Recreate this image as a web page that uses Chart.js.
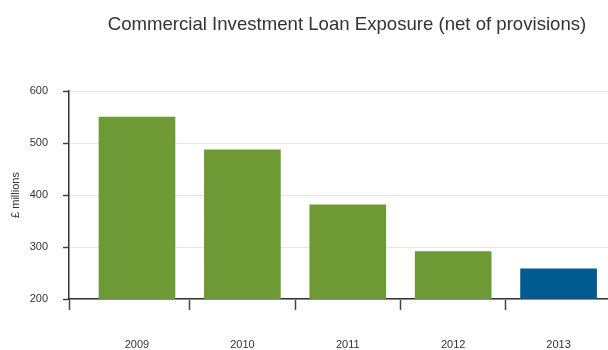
<!DOCTYPE html>
<html>
<head>
<meta charset="utf-8">
<script src="https://cdn.jsdelivr.net/npm/chart.js@4.4.1/dist/chart.umd.min.js"></script>
<style>
  html, body { margin: 0; padding: 0; background: #fff; }
  #wrap { width: 608px; height: 350px; position: relative; }
</style>
</head>
<body>
<div id="wrap"><canvas id="c"></canvas></div>
<script>
// Commercial investment loan exposure, net of provisions (£ millions)
const years = ['2009', '2010', '2011', '2012', '2013'];
const exposure = [550, 487, 381, 291, 258];
const barColors = ['#6e9a35', '#6e9a35', '#6e9a35', '#6e9a35', '#00598f'];
const yTicks = [200, 300, 400, 500, 600];
const chartTitle = 'Commercial Investment Loan Exposure (net of provisions)';
const yTitle = '£ millions';

const FONT = '"Liberation Sans", Arial, Helvetica, sans-serif';
const TEXT = '#333333';

// x positions are category indices; tick marks sit between categories
const xMin = -0.645, xMax = 4.469;
const xTickValues = [xMin];
years.forEach((_, i) => { xTickValues.push(i); if (i < years.length - 1) xTickValues.push(i + 0.5); });

const headingPlugin = {
  id: 'heading',
  afterDraw(chart, args, opts) {
    const ctx = chart.ctx;
    ctx.save();
    ctx.font = opts.size + 'px ' + FONT;
    ctx.fillStyle = TEXT;
    ctx.textAlign = 'center';
    ctx.textBaseline = 'middle';
    ctx.fillText(opts.text, opts.x, opts.y);
    ctx.restore();
  }
};

new Chart(document.getElementById('c'), {
  type: 'bar',
  data: {
    datasets: [{
      data: exposure.map((v, i) => ({ x: i, y: v })),
      backgroundColor: barColors,
      borderWidth: 0,
      barThickness: 76
    }]
  },
  options: {
    responsive: true,
    maintainAspectRatio: false,
    animation: false,
    layout: { padding: { top: 91, right: 0, bottom: 0, left: 0 } },
    plugins: {
      legend: { display: false },
      tooltip: { enabled: false },
      title: { display: false },
      heading: { text: chartTitle, x: 347, y: 25, size: 18.6 }
    },
    scales: {
      x: {
        type: 'linear',
        offset: false,
        min: xMin,
        max: xMax,
        afterBuildTicks(scale) { scale.ticks = xTickValues.map(v => ({ value: v })); },
        afterFit(scale) { scale.height = 51; },
        grid: {
          offset: false,
          drawOnChartArea: false,
          tickLength: 11,
          tickWidth: 1.5,
          tickColor: (ctx) => (ctx.tick && Number.isInteger(ctx.tick.value)) ? 'rgba(0,0,0,0)' : '#444'
        },
        border: { display: true, color: '#333', width: 1.5 },
        ticks: {
          autoSkip: false,
          maxRotation: 0,
          padding: 28,
          color: TEXT,
          font: { family: FONT, size: 11 },
          callback: (v) => Number.isInteger(v) ? years[v] : ''
        }
      },
      y: {
        min: 200,
        max: 600,
        afterBuildTicks(scale) { scale.ticks = yTicks.map(v => ({ value: v })); },
        afterFit(scale) { scale.width = 69; },
        grid: {
          color: '#e6e6e6',
          lineWidth: 1,
          tickLength: 6,
          tickColor: '#444',
          tickWidth: 1.5
        },
        border: { display: true, color: '#333', width: 1.5 },
        ticks: {
          padding: 15,
          color: TEXT,
          font: { family: FONT, size: 11 }
        },
        title: {
          display: true,
          text: yTitle,
          color: TEXT,
          font: { family: FONT, size: 11 },
          padding: { top: 9, bottom: 0 }
        }
      }
    }
  },
  plugins: [headingPlugin]
});
</script>
</body>
</html>
